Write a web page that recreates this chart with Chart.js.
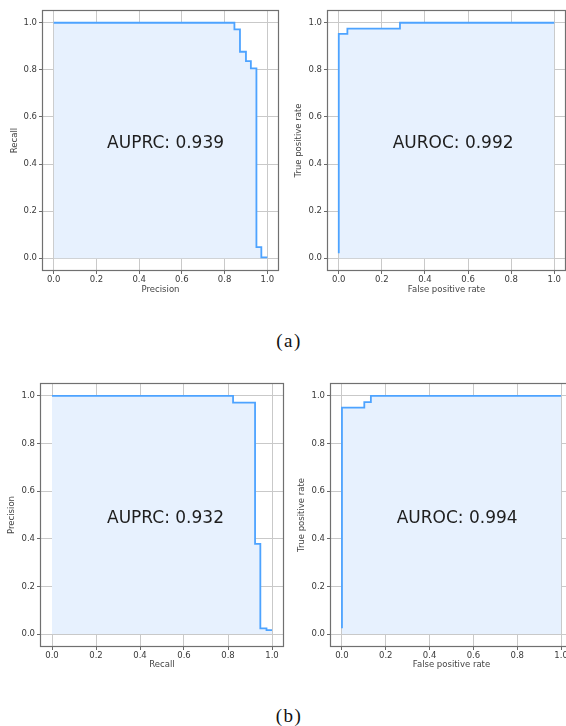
<!DOCTYPE html>
<html>
<head>
<meta charset="utf-8">
<script src="https://cdn.jsdelivr.net/npm/chart.js@4/dist/chart.umd.min.js"></script>
<style>
  html, body { margin: 0; padding: 0; background: #fff; overflow: hidden; }
  #page { position: relative; width: 566px; height: 726px; overflow: hidden; background: #fff; }
  canvas { position: absolute; }
  .cap { position: absolute; width: 80px; text-align: center; font-family: "Liberation Serif", serif; font-size: 19px; letter-spacing: 1.5px; color: #111; }
</style>
</head>
<body>
<div id="page">
  <canvas id="prA" width="290" height="305" style="left:0px;top:0px"></canvas>
  <canvas id="rocA" width="290" height="305" style="left:283px;top:0px"></canvas>
  <canvas id="prB" width="290" height="305" style="left:0px;top:370px"></canvas>
  <canvas id="rocB" width="300" height="305" style="left:283px;top:370px"></canvas>
  <div class="cap" style="left:249px;top:330px">(a)</div>
  <div class="cap" style="left:249px;top:705px">(b)</div>
</div>
<script>
// curve points (step changes happen at each x)
const prA_x = [0, 0.846, 0.872, 0.900, 0.923, 0.949, 0.972, 1.0];
const prA_y = [1.0, 0.972, 0.877, 0.837, 0.806, 0.047, 0.004, 0.004];
const rocA_x = [0, 0, 0.04, 0.284, 1.0];
const rocA_y = [0.021, 0.953, 0.975, 1.0, 1.0];
const prB_x = [0, 0.823, 0.923, 0.947, 0.975, 1.0];
const prB_y = [1.0, 0.972, 0.379, 0.024, 0.017, 0.017];
const rocB_x = [0, 0, 0.102, 0.132, 1.0];
const rocB_y = [0.025, 0.951, 0.974, 1.0, 1.0];
const tickValues = [0, 0.2, 0.4, 0.6, 0.8, 1.0];
const scoreText = ['AUPRC: 0.939', 'AUROC: 0.992', 'AUPRC: 0.932', 'AUROC: 0.994'];

const FONT = "'DejaVu Sans', sans-serif";

const framePlugin = {
  id: 'frame',
  afterDraw(chart) {
    const a = chart.chartArea, ctx = chart.ctx;
    ctx.save();
    ctx.strokeStyle = '#707070';
    ctx.lineWidth = 1.2;
    ctx.strokeRect(Math.round(a.left) - 0.5, Math.round(a.top) - 0.5, Math.round(a.right - a.left) + 1, Math.round(a.bottom - a.top) + 1);
    ctx.restore();
  }
};

const labelPlugin = {
  id: 'score',
  afterDatasetsDraw(chart, args, opts) {
    const ctx = chart.ctx;
    ctx.save();
    ctx.font = '17px ' + FONT;
    ctx.fillStyle = '#1e1e1e';
    ctx.textAlign = 'left';
    ctx.textBaseline = 'middle';
    ctx.fillText(opts.text, chart.scales.x.getPixelForValue(0.25), chart.scales.y.getPixelForValue(0.485));
    ctx.restore();
  }
};

function axis(title, size, titlePad, horizontal) {
  return {
    type: 'linear',
    min: -0.05,
    max: 1.05,
    afterBuildTicks: s => { s.ticks = tickValues.map(v => ({ value: v })); },
    afterFit: s => { if (horizontal) s.height = size; else s.width = size; },
    ticks: {
      callback: v => v.toFixed(1),
      font: { family: FONT, size: 8.5 },
      color: '#3a3a3a',
      padding: horizontal ? 1 : 2,
      maxRotation: 0
    },
    grid: { color: '#c9c9c9', lineWidth: 1, tickColor: '#6a6a6a', tickLength: 4 },
    border: { display: false },
    title: {
      display: true,
      text: title,
      font: { family: FONT, size: 8.5 },
      color: '#444',
      padding: horizontal ? { bottom: titlePad } : { top: titlePad }
    }
  };
}

function panel(id, xs, ys, text, xTitle, yTitle, g) {
  new Chart(document.getElementById(id), {
    type: 'line',
    data: {
      datasets: [{
        data: xs.map((x, i) => ({ x: x, y: ys[i] })),
        stepped: 'before',
        borderColor: '#4da3ff',
        borderWidth: 1.8,
        backgroundColor: '#e7f1fe',
        fill: 'origin',
        pointRadius: 0
      }]
    },
    options: {
      responsive: false,
      animation: false,
      devicePixelRatio: 1,
      layout: { padding: { top: g.top, right: g.right, left: 0, bottom: 0 } },
      plugins: { legend: { display: false }, tooltip: { enabled: false }, score: { text: text } },
      scales: {
        x: axis(xTitle, g.xh, g.xpad, true),
        y: axis(yTitle, g.yw, g.ypad, false)
      }
    },
    plugins: [framePlugin, labelPlugin]
  });
}

panel('prA', prA_x, prA_y, scoreText[0], 'Precision', 'Recall', { top: 11, right: 12, yw: 43, xh: 35, ypad: 9.9, xpad: 9.9 });
panel('rocA', rocA_x, rocA_y, scoreText[1], 'False positive rate', 'True positive rate', { top: 11, right: 8, yw: 45, xh: 35, ypad: 10.9, xpad: 9.9 });
panel('prB', prB_x, prB_y, scoreText[2], 'Recall', 'Precision', { top: 14, right: 7, yw: 41, xh: 29, ypad: 6.9, xpad: 4.9 });
panel('rocB', rocB_x, rocB_y, scoreText[3], 'False positive rate', 'True positive rate', { top: 14, right: 11, yw: 48, xh: 29, ypad: 13.2, xpad: 4.9 });
</script>
</body>
</html>
